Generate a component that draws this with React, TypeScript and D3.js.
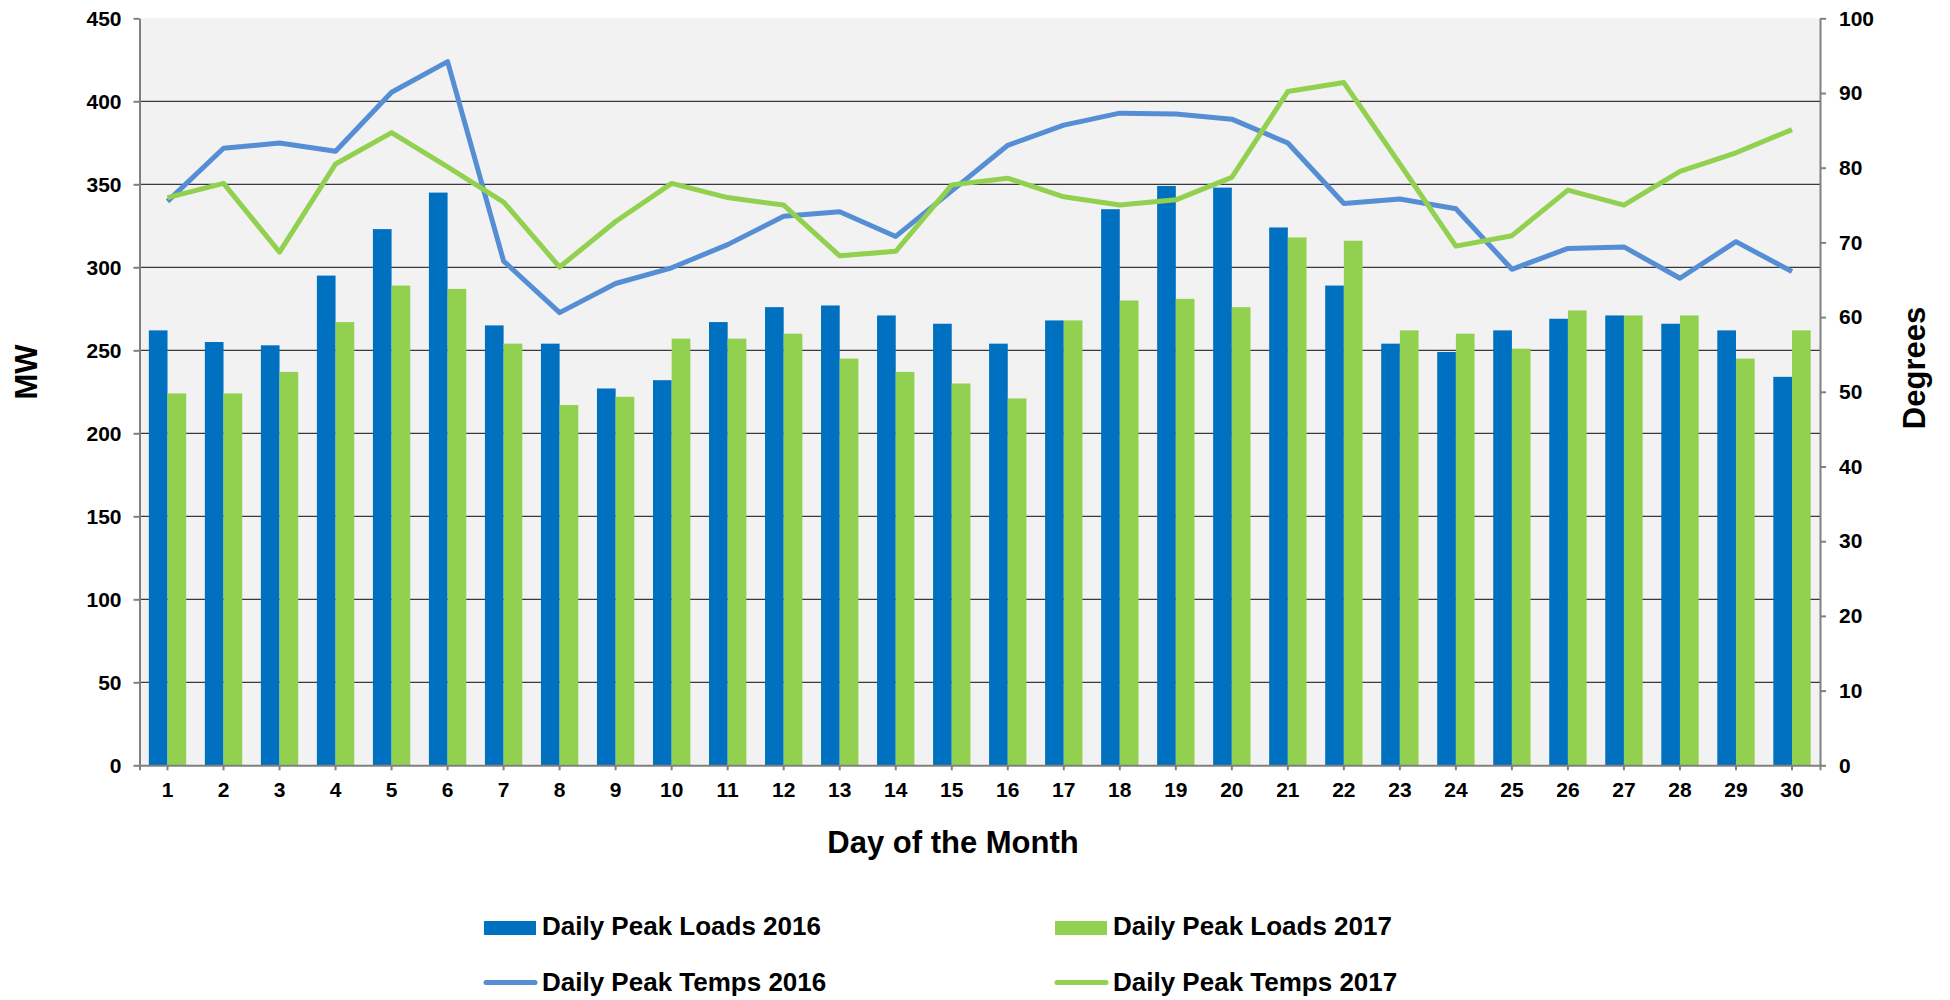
import React, { useEffect, useRef } from 'react'
import * as d3 from 'd3'

const days = [1, 2, 3, 4, 5, 6, 7, 8, 9, 10, 11, 12, 13, 14, 15, 16, 17, 18, 19, 20, 21, 22, 23, 24, 25, 26, 27, 28, 29, 30]

const loads2016 = [262, 255, 253, 295, 323, 345, 265, 254, 227, 232, 267, 276, 277, 271, 266, 254, 268, 335, 349, 348, 324, 289, 254, 249, 262, 269, 271, 266, 262, 234]
const loads2017 = [224, 224, 237, 267, 289, 287, 254, 217, 222, 257, 257, 260, 245, 237, 230, 221, 268, 280, 281, 276, 318, 316, 262, 260, 251, 274, 271, 271, 245, 262]

const temps2016 = [75.5, 82.6, 83.3, 82.2, 90.1, 94.2, 67.5, 60.6, 64.5, 66.6, 69.7, 73.5, 74.1, 70.8, 76.9, 83.0, 85.7, 87.3, 87.2, 86.5, 83.3, 75.2, 75.8, 74.5, 66.4, 69.2, 69.4, 65.2, 70.1, 66.1]
const temps2017 = [76.0, 77.9, 68.7, 80.5, 84.7, 80.1, 75.4, 66.7, 72.8, 77.9, 76.0, 75.0, 68.2, 68.8, 77.7, 78.6, 76.1, 75.0, 75.7, 78.7, 90.2, 91.4, 80.5, 69.5, 70.9, 77.0, 75.0, 79.5, 82.0, 85.1]

const mwTicks = [0, 50, 100, 150, 200, 250, 300, 350, 400, 450]
const degTicks = [0, 10, 20, 30, 40, 50, 60, 70, 80, 90, 100]

const seriesNames = ['Daily Peak Loads 2016', 'Daily Peak Loads 2017', 'Daily Peak Temps 2016', 'Daily Peak Temps 2017']

const blueBar = '#0070C0'
const greenBar = '#92D050'
const blueLine = '#558ED5'
const greenLine = '#92D050'
const axisGray = '#808080'
const font = '"Liberation Sans", Arial, Helvetica, sans-serif'

export default function App() {
  const svgRef = useRef<SVGSVGElement>(null)

  useEffect(() => {
    const svg = d3.select(svgRef.current)
    svg.selectAll('*').remove()

    const width = 1950
    const height = 1000
    const left = 139.5
    const right = 1820
    const top = 18.3
    const bottom = 765.3

    svg.attr('width', width).attr('height', height)

    const x = d3.scaleBand<string>()
      .domain(days.map(String))
      .range([left, right])
      .padding(0)

    const xInner = d3.scaleBand<string>()
      .domain(['2016', '2017'])
      .range([0, x.bandwidth()])
      .paddingInner(0)
      .paddingOuter(0.5)

    const yLeft = d3.scaleLinear().domain([0, 450]).range([bottom, top])
    const yRight = d3.scaleLinear().domain([0, 100]).range([bottom, top])

    // plot background
    svg.append('rect')
      .attr('x', left)
      .attr('y', top)
      .attr('width', right - left)
      .attr('height', bottom - top)
      .attr('fill', '#F2F2F2')

    // gridlines
    svg.append('g')
      .selectAll('line')
      .data(mwTicks.filter(t => t > 0 && t < 450))
      .join('line')
      .attr('x1', left)
      .attr('x2', right)
      .attr('y1', d => yLeft(d))
      .attr('y2', d => yLeft(d))
      .attr('stroke', '#3a3a3a')
      .attr('stroke-width', 1.2)

    // bars
    const groups = svg.append('g')
      .selectAll('g')
      .data(days)
      .join('g')
      .attr('transform', d => `translate(${x(String(d))},0)`)

    groups.append('rect')
      .attr('x', xInner('2016')!)
      .attr('width', xInner.bandwidth())
      .attr('y', (_, i) => yLeft(loads2016[i]))
      .attr('height', (_, i) => bottom - yLeft(loads2016[i]))
      .attr('fill', blueBar)

    groups.append('rect')
      .attr('x', xInner('2017')!)
      .attr('width', xInner.bandwidth())
      .attr('y', (_, i) => yLeft(loads2017[i]))
      .attr('height', (_, i) => bottom - yLeft(loads2017[i]))
      .attr('fill', greenBar)

    // temperature lines
    const cx = (d: number) => x(String(d))! + x.bandwidth() / 2
    const line = (vals: number[]) => d3.line<number>()
      .x(d => cx(d))
      .y((_, i) => yRight(vals[i]))(days)

    svg.append('path')
      .attr('d', line(temps2016))
      .attr('fill', 'none')
      .attr('stroke', blueLine)
      .attr('stroke-width', 5)
      .attr('stroke-linejoin', 'round')

    svg.append('path')
      .attr('d', line(temps2017))
      .attr('fill', 'none')
      .attr('stroke', greenLine)
      .attr('stroke-width', 5)
      .attr('stroke-linejoin', 'round')

    // axes
    const styleAxis = (g: d3.Selection<SVGGElement, unknown, null, undefined>) => {
      g.select('.domain').attr('stroke', axisGray).attr('stroke-width', 2)
      g.selectAll('.tick line').attr('stroke', axisGray).attr('stroke-width', 2)
      g.selectAll('.tick text')
        .attr('fill', '#000')
        .style('font-family', font)
        .style('font-size', '21px')
        .style('font-weight', 'bold')
    }

    svg.append('g')
      .attr('transform', `translate(${left},0)`)
      .call(d3.axisLeft(yLeft).tickValues(mwTicks).tickSize(6).tickSizeOuter(0).tickPadding(12))
      .call(styleAxis)

    svg.append('g')
      .attr('transform', `translate(${right},0)`)
      .call(d3.axisRight(yRight).tickValues(degTicks).tickSize(6).tickSizeOuter(0).tickPadding(13))
      .call(styleAxis)

    svg.append('g')
      .attr('transform', `translate(0,${bottom})`)
      .call(d3.axisBottom(x).tickSize(5).tickSizeOuter(5).tickPadding(12))
      .call(styleAxis)

    // axis titles
    const title = (sel: d3.Selection<SVGTextElement, unknown, null, undefined>) =>
      sel.style('font-family', font)
        .style('font-size', '31px')
        .style('font-weight', 'bold')
        .attr('fill', '#000')
        .attr('text-anchor', 'middle')

    svg.append('text')
      .attr('transform', 'translate(37,372) rotate(-90)')
      .text('MW')
      .call(title)

    svg.append('text')
      .attr('transform', 'translate(1925,368) rotate(-90)')
      .text('Degrees')
      .call(title)

    svg.append('text')
      .attr('x', 953)
      .attr('y', 853)
      .text('Day of the Month')
      .call(title)

    // legend
    const legendItems = [
      { name: seriesNames[0], kind: 'bar', color: blueBar, x: 484, y: 935 },
      { name: seriesNames[1], kind: 'bar', color: greenBar, x: 1055, y: 935 },
      { name: seriesNames[2], kind: 'line', color: blueLine, x: 484, y: 991 },
      { name: seriesNames[3], kind: 'line', color: greenLine, x: 1055, y: 991 },
    ]

    const legend = svg.append('g')
    legendItems.forEach(item => {
      if (item.kind === 'bar') {
        legend.append('rect')
          .attr('x', item.x)
          .attr('y', item.y - 14)
          .attr('width', 52)
          .attr('height', 14)
          .attr('fill', item.color)
      } else {
        legend.append('line')
          .attr('x1', item.x + 2)
          .attr('x2', item.x + 51)
          .attr('y1', item.y - 8.5)
          .attr('y2', item.y - 8.5)
          .attr('stroke', item.color)
          .attr('stroke-width', 5)
          .attr('stroke-linecap', 'round')
      }
      legend.append('text')
        .attr('x', item.x + 58)
        .attr('y', item.y)
        .style('font-family', font)
        .style('font-size', '26px')
        .style('font-weight', 'bold')
        .attr('fill', '#000')
        .text(item.name)
    })
  }, [])

  return (
    <div style={{ position: 'absolute', left: 0, top: 0 }}>
      <svg ref={svgRef} style={{ display: 'block' }} />
    </div>
  )
}
